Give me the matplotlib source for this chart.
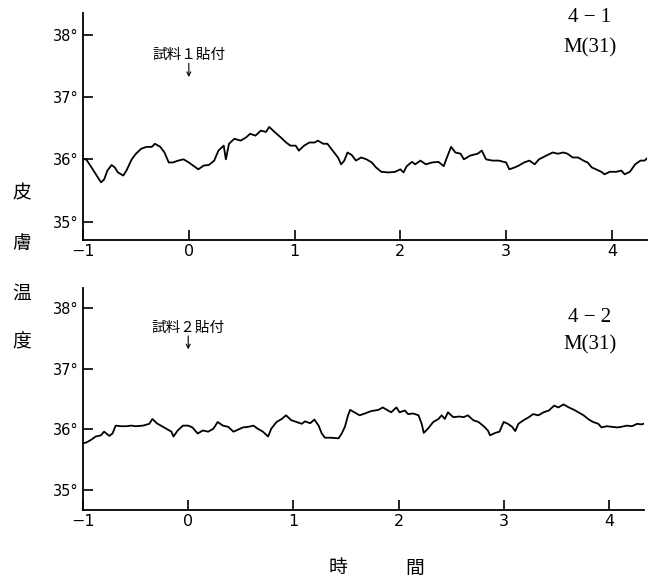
import matplotlib
matplotlib.use("Agg")
import matplotlib.pyplot as plt

plt.rcParams['font.family'] = ['DejaVu Sans', 'Noto Sans CJK JP']

# skin temperature traces (hours, deg C)
hours_1 = [-1.0, -0.97, -0.92, -0.86, -0.83, -0.80, -0.77, -0.73, -0.70, -0.67, -0.62, -0.59,
           -0.54, -0.50, -0.45, -0.40, -0.35, -0.32, -0.27, -0.23, -0.19, -0.15, -0.10, -0.05,
           0.0, 0.04, 0.09, 0.14, 0.19, 0.24, 0.28, 0.33, 0.35, 0.38, 0.43, 0.49, 0.54, 0.58,
           0.63, 0.68, 0.73, 0.76, 0.81, 0.87, 0.92, 0.96, 1.01, 1.04, 1.09, 1.14, 1.19, 1.22,
           1.27, 1.31, 1.36, 1.41, 1.44, 1.47, 1.50, 1.54, 1.58, 1.63, 1.68, 1.73, 1.77, 1.82,
           1.89, 1.95, 2.00, 2.03, 2.06, 2.11, 2.14, 2.19, 2.24, 2.30, 2.36, 2.41, 2.44, 2.48,
           2.52, 2.57, 2.60, 2.66, 2.73, 2.77, 2.81, 2.87, 2.93, 3.00, 3.03, 3.08, 3.12, 3.17,
           3.22, 3.27, 3.31, 3.38, 3.44, 3.49, 3.54, 3.58, 3.63, 3.68, 3.73, 3.77, 3.81, 3.85,
           3.90, 3.93, 3.98, 4.04, 4.09, 4.12, 4.17, 4.22, 4.27, 4.31, 4.34]
temp_1 = [36.0, 36.0, 35.87, 35.71, 35.63, 35.68, 35.82, 35.91, 35.87, 35.79, 35.74, 35.82,
          36.0, 36.09, 36.17, 36.2, 36.2, 36.25, 36.2, 36.11, 35.95, 35.95, 35.98, 36.0,
          35.95, 35.9, 35.84, 35.9, 35.91, 35.98, 36.14, 36.22, 36.0, 36.25, 36.33, 36.3, 36.35, 36.41,
          36.38, 36.46, 36.44, 36.52, 36.44, 36.35, 36.27, 36.22, 36.22, 36.14, 36.22, 36.27, 36.27, 36.3,
          36.25, 36.25, 36.14, 36.03, 35.92, 35.98, 36.11, 36.07, 35.98, 36.03, 36.0, 35.95, 35.87, 35.8,
          35.79, 35.8, 35.84, 35.79, 35.89, 35.96, 35.92, 35.98, 35.92, 35.95, 35.96, 35.89, 36.03, 36.2,
          36.11, 36.09, 36.0, 36.06, 36.09, 36.14, 36.0, 35.98, 35.98, 35.95, 35.84, 35.87, 35.9, 35.95,
          35.98, 35.92, 36.0, 36.06, 36.11, 36.09, 36.11, 36.09, 36.03, 36.03, 35.98, 35.95, 35.87, 35.84,
          35.8, 35.76, 35.8, 35.8, 35.82, 35.76, 35.8, 35.92, 35.98, 35.98, 36.03]

hours_2 = [-1.0, -0.97, -0.92, -0.88, -0.83, -0.80, -0.75, -0.72, -0.69, -0.64, -0.59, -0.54,
           -0.50, -0.43, -0.37, -0.34, -0.30, -0.26, -0.21, -0.16, -0.14, -0.10, -0.05, 0.0,
           0.04, 0.09, 0.14, 0.19, 0.24, 0.28, 0.33, 0.38, 0.43, 0.47, 0.52, 0.57, 0.62, 0.66,
           0.71, 0.76, 0.79, 0.84, 0.89, 0.93, 0.98, 1.03, 1.08, 1.11, 1.16, 1.20, 1.24, 1.27,
           1.30, 1.36, 1.43, 1.46, 1.49, 1.52, 1.54, 1.58, 1.63, 1.68, 1.74, 1.81, 1.85, 1.90,
           1.93, 1.98, 2.01, 2.06, 2.09, 2.14, 2.19, 2.22, 2.24, 2.28, 2.33, 2.38, 2.41, 2.44,
           2.47, 2.52, 2.58, 2.62, 2.66, 2.71, 2.76, 2.81, 2.85, 2.87, 2.92, 2.96, 3.00, 3.04,
           3.08, 3.11, 3.14, 3.19, 3.24, 3.28, 3.33, 3.38, 3.43, 3.48, 3.52, 3.57, 3.62, 3.67,
           3.71, 3.76, 3.81, 3.85, 3.90, 3.93, 3.98, 4.03, 4.08, 4.12, 4.17, 4.22, 4.27, 4.31, 4.35]
temp_2 = [35.77, 35.78, 35.83, 35.88, 35.9, 35.96, 35.89, 35.93, 36.06, 36.05, 36.05, 36.06,
          36.05, 36.06, 36.09, 36.17, 36.1, 36.06, 36.01, 35.96, 35.88, 35.98, 36.06, 36.06,
          36.03, 35.93, 35.98, 35.96, 36.01, 36.12, 36.06, 36.04, 35.96, 35.99, 36.03, 36.04, 36.06, 36.01,
          35.96, 35.88, 36.01, 36.12, 36.17, 36.23, 36.15, 36.12, 36.09, 36.13, 36.1, 36.16, 36.06, 35.93,
          35.86, 35.86, 35.85, 35.93, 36.04, 36.23, 36.32, 36.28, 36.23, 36.26, 36.3, 36.32, 36.36, 36.31,
          36.28, 36.36, 36.28, 36.31, 36.25, 36.26, 36.23, 36.09, 35.94, 36.01, 36.12, 36.17, 36.23, 36.17,
          36.28, 36.2, 36.21, 36.2, 36.23, 36.15, 36.12, 36.05, 35.98, 35.9, 35.94, 35.96, 36.12, 36.09,
          36.04, 35.97, 36.09, 36.15, 36.2, 36.25, 36.23, 36.28, 36.31, 36.39, 36.36, 36.41, 36.36, 36.32,
          36.28, 36.23, 36.16, 36.12, 36.09, 36.03, 36.05, 36.04, 36.03, 36.04, 36.06, 36.05, 36.09, 36.08, 36.1]

x_ticks = [-1, 0, 1, 2, 3, 4]
y_ticks = [35, 36, 37, 38]
y_tick_labels = ['35°', '36°', '37°', '38°']
sample_notes = ['試料１貼付', '試料２貼付']
panel_ids = ['4 − 1', '4 − 2']
subject = 'M(31)'
y_label_chars = ['皮', '膚', '温', '度']
x_label_chars = ['時', '間']

fig = plt.figure(figsize=(6.54, 5.82), dpi=100)
ax1 = fig.add_axes([0.127, 0.588, 0.862, 0.390])
ax2 = fig.add_axes([0.127, 0.124, 0.857, 0.381])

panels = [(ax1, hours_1, temp_1, (34.71, 38.35)),
          (ax2, hours_2, temp_2, (34.67, 38.33))]

for i, (ax, hrs, tmp, ylim) in enumerate(panels):
    ax.plot(hrs, tmp, color='black', linewidth=1.3)
    ax.set_xlim(-1.0, 4.33)
    ax.set_ylim(*ylim)
    ax.spines['top'].set_visible(False)
    ax.spines['right'].set_visible(False)
    ax.spines['left'].set_linewidth(1.3)
    ax.spines['bottom'].set_linewidth(1.3)
    ax.set_xticks(x_ticks)
    ax.set_yticks(y_ticks)
    ax.set_yticklabels(y_tick_labels)
    ax.tick_params(direction='in', length=7, width=1.2, labelsize=11.5, pad=3)
    ax.tick_params(axis='y', labelsize=10.5)

    # sample application marker at t = 0
    ax.annotate('', xy=(0, 37.32), xytext=(0, 37.54),
                arrowprops=dict(arrowstyle='->', lw=0.8, color='black',
                                shrinkA=0, shrinkB=0, mutation_scale=7))
    ax.text(0, 37.68, sample_notes[i], ha='center', va='center', fontsize=10.5,
            family=['Noto Sans CJK JP', 'DejaVu Sans'])

# panel labels in the upper right corner
for ident, y_id, y_sub in zip(panel_ids, [18, 317], [48, 345]):
    fig.text(590 / 654, 1 - y_id / 582, ident, ha='center', va='center',
             fontsize=15, family='Liberation Serif')
    fig.text(590 / 654, 1 - y_sub / 582, subject, ha='center', va='center',
             fontsize=15, family='Liberation Serif')

# vertical y label, one character per line
for ch, ypix in zip(y_label_chars, [193, 243, 293, 342]):
    fig.text(22 / 654, 1 - ypix / 582, ch, ha='center', va='center', fontsize=13.5,
             family=['Noto Sans CJK JP'])

for ch, xpix in zip(x_label_chars, [338, 415]):
    fig.text(xpix / 654, 1 - 568 / 582, ch, ha='center', va='center', fontsize=13.5,
             family=['Noto Sans CJK JP'])

fig.savefig('out.png', dpi=100)
